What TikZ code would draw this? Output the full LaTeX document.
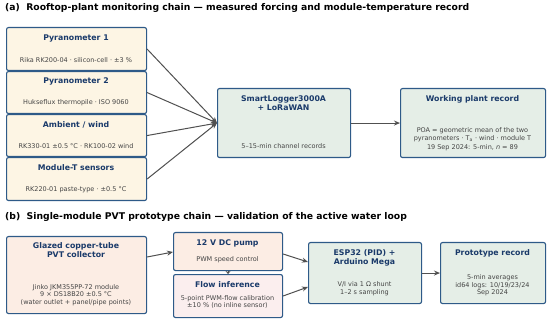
\documentclass[tikz,border=0pt]{standalone}
\usepackage{fontspec}
\setmainfont{DejaVu Sans}
\usetikzlibrary{arrows.meta,calc}
\definecolor{edgeC}{HTML}{2E5A88}
\definecolor{titleC}{HTML}{1A3A6A}
\definecolor{subC}{HTML}{444444}
\definecolor{fillA}{HTML}{FDF5E4}
\definecolor{fillG}{HTML}{E5EEE7}
\definecolor{fillP}{HTML}{FCEDE4}
\definecolor{fillF}{HTML}{FBEEEE}
\definecolor{arrC}{HTML}{505050}
\begin{document}
\begin{tikzpicture}[x=1pt,y=-1pt,
 box/.style={draw=edgeC, line width=1.1pt, rounded corners=2pt, anchor=north west, inner sep=0pt},
 ttl/.style={font=\fontsize{7.8}{9}\selectfont\bfseries, text=titleC, align=center, inner sep=0pt},
 sub/.style={font=\fontsize{6.5}{7.7}\selectfont, text=subC, align=center, inner sep=0pt},
 head/.style={font=\fontsize{9.25}{11}\selectfont\bfseries, anchor=west, inner sep=0pt},
 arr/.style={draw=arrC, line width=1pt, -{Stealth[length=6pt,width=5pt]}}]
\useasboundingbox (0,0) rectangle (550,321);

% (a)
\node[head] (ha) at (5,8) {(a)\ \ Rooftop-plant monitoring chain — measured forcing and module-temperature record};

\node[box, fill=fillA, minimum width=140pt, minimum height=43pt] (p1) at (6,27) {};
\node[ttl] (p1t) at (76,38) {Pyranometer 1};
\node[sub] (p1s) at (76,60) {Rika RK200-04 · silicon-cell · ±3 \%};

\node[box, fill=fillA, minimum width=140pt, minimum height=42pt] (p2) at (6,71) {};
\node[ttl] (p2t) at (76,81) {Pyranometer 2};
\node[sub] (p2s) at (76,103) {Hukseflux thermopile · ISO 9060};

\node[box, fill=fillA, minimum width=140pt, minimum height=42pt] (p3) at (6,114) {};
\node[ttl] (p3t) at (76,124.5) {Ambient / wind};
\node[sub] (p3s) at (76,146.5) {RK330-01 ±0.5 °C · RK100-02 wind};

\node[box, fill=fillA, minimum width=140pt, minimum height=43pt] (p4) at (6,157) {};
\node[ttl] (p4t) at (76,167.5) {Module-T sensors};
\node[sub] (p4s) at (76,189.5) {RK220-01 paste-type · ±0.5 °C};

\node[box, fill=fillG, minimum width=133pt, minimum height=69pt] (lg) at (217,88) {};
\node[ttl] (lgt) at (283.5,103.5) {SmartLogger3000A\\+ LoRaWAN};
\node[sub] (lgs) at (283.5,146.5) {5–15-min channel records};

\node[box, fill=fillG, minimum width=145pt, minimum height=69pt] (wk) at (400,88) {};
\node[ttl] (wkt) at (472.5,99) {Working plant record};
\node[sub, font=\fontsize{6.5}{8.6}\selectfont] (wks) at (472.5,139) {POA = geometric mean of the two\\pyranometers · T\textsubscript{a} · wind · module T\\19 Sep 2024: 5-min, \textit{n} = 89};

\draw[arr] (p1.east) -- (lg.west);
\draw[arr] (p2.east) -- (lg.west);
\draw[arr] (p3.east) -- (lg.west);
\draw[arr] (p4.east) -- (lg.west);
\draw[arr] (lg.east) -- (wk.west);

% (b)
\node[head] (hb) at (5,216.5) {(b)\ \ Single-module PVT prototype chain — validation of the active water loop};

\node[box, fill=fillP, minimum width=140pt, minimum height=77pt] (gl) at (6,236) {};
\node[ttl] (glt) at (76,250.5) {Glazed copper-tube\\PVT collector};
\node[sub] (gls) at (76,295) {Jinko JKM355PP-72 module\\9 × DS18B20 ±0.5 °C\\(water outlet + panel/pipe points)};

\node[box, fill=fillP, minimum width=109pt, minimum height=38pt] (pm) at (173,232) {};
\node[ttl] (pmt) at (227.5,243) {12 V DC pump};
\node[sub] (pms) at (227.5,259.5) {PWM speed control};

\node[box, fill=fillF, minimum width=109pt, minimum height=43pt] (fl) at (173,274) {};
\node[ttl] (flt) at (227.5,284.5) {Flow inference};
\node[sub] (fls) at (227.5,302) {5-point PWM-flow calibration\\±10 \% (no inline sensor)};

\node[box, fill=fillG, minimum width=113pt, minimum height=61pt] (esp) at (308,242) {};
\node[ttl] (espt) at (364.5,257.5) {ESP32 (PID) +\\Arduino Mega};
\node[sub] (esps) at (364.5,289) {V/I via 1 Ω shunt\\1–2 s sampling};

\node[box, fill=fillG, minimum width=105pt, minimum height=61pt] (pr) at (440,242) {};
\node[ttl] (prt) at (492.5,253) {Prototype record};
\node[sub] (prs) at (492.5,285.5) {5-min averages\\id64 logs: 10/19/23/24\\Sep 2024};

\coordinate (glo) at ($(gl.north east)+(0,21)$);
\coordinate (pmi) at ($(pm.north west)+(0,20)$);
\coordinate (pmo) at ($(pm.north east)+(0,22)$);
\coordinate (espa) at ($(esp.north west)+(0,20)$);
\coordinate (flo) at ($(fl.north east)+(0,22)$);
\coordinate (espb) at ($(esp.north west)+(0,45)$);

\draw[arr] (glo) -- (pmi);
\draw[arr] (pmo) -- (espa);
\draw[arr] (flo) -- (espb);
\draw[arr, -{Stealth[length=3pt,width=5pt]}] (pm.south) -- (fl.north);
\draw[arr] (esp.east) -- (pr.west);
\end{tikzpicture}
\end{document}
